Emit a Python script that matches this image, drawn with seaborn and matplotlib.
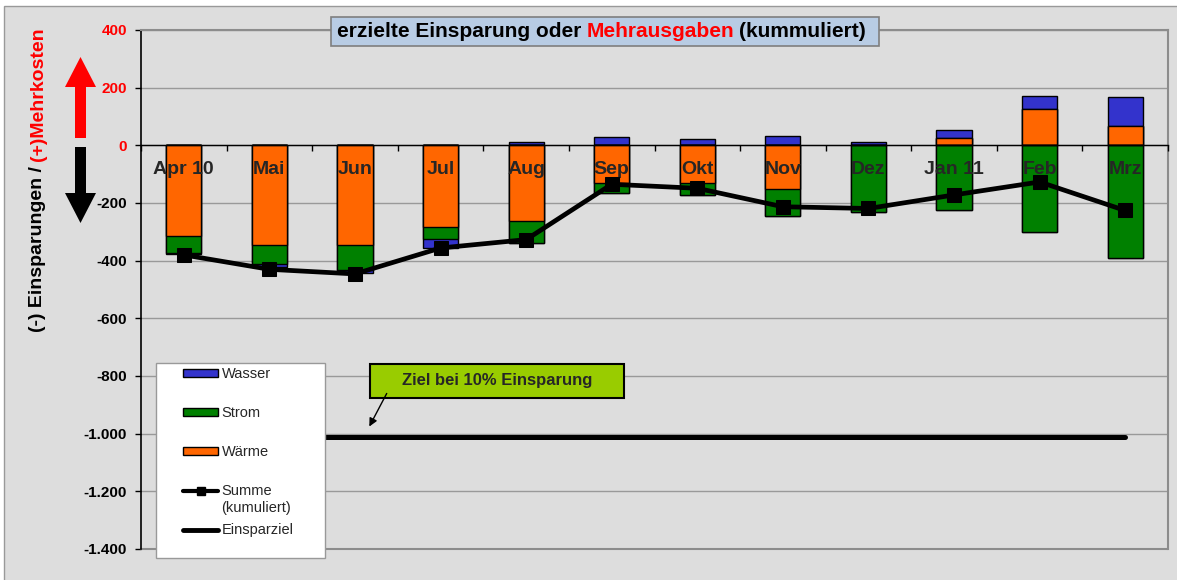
import numpy as np
import pandas as pd
import matplotlib
matplotlib.use('Agg')
import matplotlib.pyplot as plt
import matplotlib.patches as mpatches
from matplotlib.lines import Line2D
import seaborn as sns

# Werte
monate = ['Apr 10', 'Mai', 'Jun', 'Jul', 'Aug', 'Sep', 'Okt', 'Nov', 'Dez', 'Jan 11', 'Feb', 'Mrz']
waerme = [-313, -346, -346, -282, -264, -130, -132, -150, 0, 24, 125, 68]
strom = [-59, -67, -86, -44, -74, -34, -41, -95, -230, -225, -300, -392]
wasser = [-6, -8, -12, -31, 10, 28, 23, 31, 10, 29, 47, 101]
summe = [-380, -430, -446, -356, -327, -135, -149, -213, -219, -172, -127, -226]
einsparziel = [-1010] * 12
yticks = list(range(-1400, 401, 200))

W, H = 1177, 580
def fx(px):
    return px / W
def fy(py):
    return 1 - py / H

sns.set_style('white')
plt.rcParams['font.family'] = ['Liberation Sans', 'DejaVu Sans']

grau = '#dddddd'
farben = {'Wärme': '#ff6600', 'Strom': '#008000', 'Wasser': '#3333cc'}

fig = plt.figure(figsize=(W / 100, H / 100), dpi=100)
fig.patch.set_facecolor('white')
fig.add_artist(mpatches.Rectangle((fx(4), fy(590)), fx(1190) - fx(4), fy(6) - fy(590),
                                  transform=fig.transFigure, facecolor=grau, edgecolor='#999999',
                                  lw=1, zorder=-1))

ax = fig.add_axes([fx(141), fy(549), fx(1168) - fx(141), fy(30) - fy(549)])
ax.set_facecolor(grau)
ax.set_axisbelow(True)

# gestapelte Balken: positive und negative Anteile getrennt, Überlagerung von hinten nach vorn
df = pd.DataFrame({'Monat': monate, 'Wärme': waerme, 'Strom': strom, 'Wasser': wasser})
reihen = ['Wärme', 'Strom', 'Wasser']
for seite in ('pos', 'neg'):
    teile = df[reihen].clip(lower=0) if seite == 'pos' else df[reihen].clip(upper=0)
    kum = teile.cumsum(axis=1)
    for r in reversed(reihen):
        sns.barplot(x=df['Monat'], y=kum[r], order=monate, color=farben[r], saturation=1,
                    width=0.41, edgecolor='black', linewidth=1, errorbar=None, ax=ax)

pos = np.arange(len(monate))
sns.lineplot(x=pos, y=einsparziel, color='black', lw=3.6, ax=ax, zorder=4)
sns.lineplot(x=pos, y=summe, color='black', lw=3.4, marker='s', markersize=10,
             markeredgecolor='black', ax=ax, zorder=5)

# Spines zuerst (set_position setzt die Ticks zurück)
ax.spines['bottom'].set_position(('data', 0))
ax.spines['bottom'].set_color('black')
ax.spines['bottom'].set_linewidth(1)
ax.spines['left'].set_color('black')
ax.spines['left'].set_linewidth(1.2)
for s in ('top', 'right'):
    ax.spines[s].set_color('#8c8c8c')
    ax.spines[s].set_linewidth(1.5)

ax.set_xlim(-0.5, 11.5)
ax.set_ylim(-1400, 400)
ax.set_xlabel('')
ax.set_ylabel('')
ax.set_yticks(yticks)
ax.set_yticklabels([f'{v:,}'.replace(',', '.') for v in yticks], fontsize=11, fontweight='bold')
for lab, v in zip(ax.get_yticklabels(), yticks):
    lab.set_color('red' if v >= 0 else 'black')
ax.tick_params(axis='y', length=4, width=1, color='black', pad=6, direction='out', left=True)

ax.set_xticks(pos)
ax.set_xticklabels(monate, fontsize=14, fontweight='bold')
ax.set_xticks(np.arange(-0.5, 12, 1), minor=True)
ax.tick_params(axis='x', which='major', length=0, pad=11, bottom=True)
ax.tick_params(axis='x', which='minor', length=4, width=1, color='black', bottom=True)
ax.xaxis.set_zorder(4.5)  # Monatsnamen über den Balken

ax.grid(axis='y', color='#999999', lw=1)
ax.grid(axis='x', visible=False)
ax.axhline(-1400, color='#8c8c8c', lw=1.5, clip_on=False, zorder=0.6)

# Titel mit Rahmen
fig.add_artist(mpatches.Rectangle((fx(331), fy(46)), fx(879) - fx(331), fy(17) - fy(46),
                                  transform=fig.transFigure, facecolor='#b8cce4',
                                  edgecolor='#7f7f7f', lw=1.2, zorder=2))
fig.canvas.draw()
r = fig.canvas.get_renderer()
x0 = fx(337)
for txt, col in [('erzielte Einsparung oder', 'black'), ('Mehrausgaben', 'red'), ('(kummuliert)', 'black')]:
    t = fig.text(x0, fy(31.5), txt, color=col, fontsize=15, fontweight='bold', ha='left', va='center')
    bb = t.get_window_extent(r)
    x0 = (bb.x1 + 5) / W

# Achsentitel zweifarbig
t1 = fig.text(fx(38), fy(332), '(-) Einsparungen /', rotation=90, color='black', fontsize=14,
              fontweight='bold', ha='center', va='bottom')
bb = t1.get_window_extent(r)
fig.text(fx(38), (bb.y1 + 5) / H, '(+)Mehrkosten', rotation=90, color='red', fontsize=14,
         fontweight='bold', ha='center', va='bottom')

# Pfeile links
def pfeil(pts, col):
    fig.add_artist(mpatches.Polygon([(fx(a), fy(b)) for a, b in pts], closed=True,
                                    transform=fig.transFigure, facecolor=col, edgecolor='none'))
pfeil([(75, 138), (75, 87), (65, 87), (80.5, 57), (96, 87), (86, 87), (86, 138)], 'red')
pfeil([(75, 147), (75, 193), (65, 193), (80.5, 223), (96, 193), (86, 193), (86, 147)], 'black')

# Hinweis Einsparziel
fig.add_artist(mpatches.Rectangle((fx(370), fy(398)), fx(624) - fx(370), fy(364) - fy(398),
                                  transform=fig.transFigure, facecolor='#99cc00',
                                  edgecolor='black', lw=1.5, zorder=2))
fig.text(fx(497), fy(381), 'Ziel bei 10% Einsparung', fontsize=12, fontweight='bold',
         ha='center', va='center')
fig.add_artist(mpatches.FancyArrowPatch((fx(388), fy(391)), (fx(368), fy(429)),
                                        transform=fig.transFigure, arrowstyle='-|>',
                                        mutation_scale=12, color='black', lw=1, zorder=4))

# Legende
fig.add_artist(mpatches.Rectangle((fx(156), fy(558)), fx(325) - fx(156), fy(363) - fy(558),
                                  transform=fig.transFigure, facecolor='white',
                                  edgecolor='#999999', lw=1, zorder=2))
handles = [mpatches.Patch(facecolor=farben['Wasser'], edgecolor='black', lw=1),
           mpatches.Patch(facecolor=farben['Strom'], edgecolor='black', lw=1),
           mpatches.Patch(facecolor=farben['Wärme'], edgecolor='black', lw=1),
           Line2D([], [], color='black', lw=3, marker='s', markersize=6),
           Line2D([], [], color='black', lw=3.5)]
labels = ['Wasser', 'Strom', 'Wärme', 'Summe', 'Einsparziel']
fig.legend(handles, labels, loc='upper left', bbox_to_anchor=(fx(183), fy(367)),
           bbox_transform=fig.transFigure, frameon=False, borderpad=0, borderaxespad=0,
           fontsize=10.5, labelspacing=1.72, handlelength=2.4, handleheight=0.5,
           handletextpad=0.25)
fig.text(fx(221), fy(508), '(kumuliert)', fontsize=10.5, ha='left', va='center')

fig.savefig('out.png', dpi=100, facecolor=fig.get_facecolor())
